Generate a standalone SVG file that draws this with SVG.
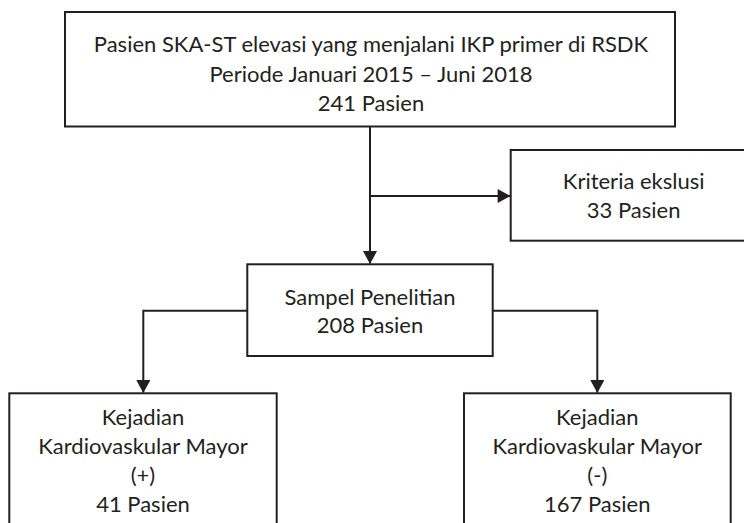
<svg xmlns="http://www.w3.org/2000/svg" width="744" height="523" viewBox="0 0 744 523">
  <style>
    .box { fill: #ffffff; stroke: #231f20; stroke-width: 2; }
    .lbl { font-family: Lato, "Open Sans", "Liberation Sans", sans-serif; font-size: 22px; fill: #231f20; text-anchor: middle; }
    .conn { fill: none; stroke: #231f20; stroke-width: 2; }
  </style>
  <defs>
    <marker id="arrow" markerUnits="userSpaceOnUse" markerWidth="14" markerHeight="14" viewBox="0 0 12 13" refX="11.5" refY="6.5" orient="auto">
      <path d="M0,0 L12,6.5 L0,13 Z" fill="#231f20"/>
    </marker>
  </defs>
  <rect width="744" height="523" fill="#ffffff"/>

  <g id="connectors">
    <line class="conn" x1="370" y1="126" x2="370" y2="263.5" marker-end="url(#arrow)"/>
    <line class="conn" x1="370" y1="196" x2="510" y2="196" marker-end="url(#arrow)"/>
    <polyline class="conn" points="247.3,310.7 143.3,310.7 143.3,392.5" marker-end="url(#arrow)"/>
    <polyline class="conn" points="492.7,310.7 597.3,310.7 597.3,392.5" marker-end="url(#arrow)"/>
  </g>

  <g id="node-populasi">
    <rect class="box" x="65" y="12" width="610" height="114.5"/>
    <text class="lbl" x="371" y="52.3">Pasien SKA-ST elevasi yang menjalani IKP primer di RSDK</text>
    <text class="lbl" x="371" y="81.7">Periode Januari 2015 – Juni 2018</text>
    <text class="lbl" x="371" y="110.7">241 Pasien</text>
  </g>

  <g id="node-eksklusi">
    <rect class="box" x="510.7" y="150" width="246" height="90.7"/>
    <text class="lbl" x="633.7" y="188.5">Kriteria ekslusi</text>
    <text class="lbl" x="633.7" y="218">33 Pasien</text>
  </g>

  <g id="node-sampel">
    <rect class="box" x="247.3" y="264.3" width="245.4" height="91.7"/>
    <text class="lbl" x="370" y="305">Sampel Penelitian</text>
    <text class="lbl" x="370" y="333">208 Pasien</text>
  </g>

  <g id="node-mace-positif">
    <rect class="box" x="9.3" y="393.3" width="267.4" height="140"/>
    <text class="lbl" x="143" y="425">Kejadian</text>
    <text class="lbl" x="143" y="454">Kardiovaskular Mayor</text>
    <text class="lbl" x="143" y="483">(+)</text>
    <text class="lbl" x="143" y="512">41 Pasien</text>
  </g>

  <g id="node-mace-negatif">
    <rect class="box" x="464" y="393.3" width="266.7" height="140"/>
    <text class="lbl" x="597.3" y="425">Kejadian</text>
    <text class="lbl" x="597.3" y="454">Kardiovaskular Mayor</text>
    <text class="lbl" x="597.3" y="483">(-)</text>
    <text class="lbl" x="597.3" y="512">167 Pasien</text>
  </g>
</svg>
